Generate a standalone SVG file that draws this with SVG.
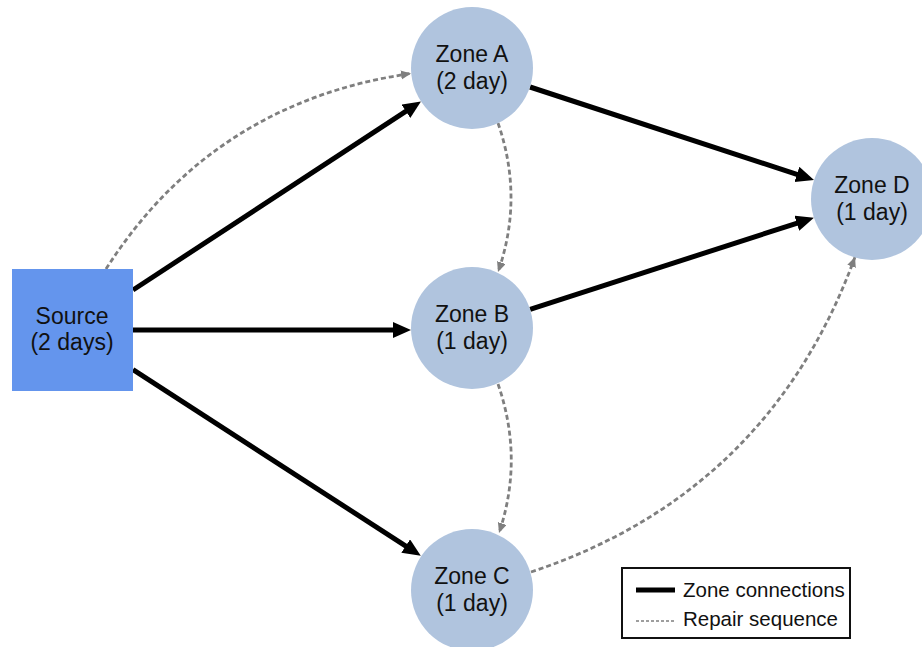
<svg xmlns="http://www.w3.org/2000/svg" width="922" height="647" viewBox="0 0 922 647">
  <style>
    .label { font-family: "Liberation Sans", Arial, sans-serif; font-size: 23px; fill: #111; text-anchor: middle; }
    .legend-text { font-family: "Liberation Sans", Arial, sans-serif; font-size: 20.5px; fill: #111; }
    .zone { fill: #b0c4de; }
    .source { fill: #6495ed; }
    .link { fill: none; stroke: #000; stroke-width: 5; marker-end: url(#head-solid); }
    .repair { fill: none; stroke: #7f7f7f; stroke-width: 2.8; stroke-dasharray: 5 3; marker-end: url(#head-dash); }
  </style>
  <defs>
    <marker id="head-solid" markerUnits="userSpaceOnUse" markerWidth="20" markerHeight="18" refX="8" refY="8" orient="auto" viewBox="0 0 20 18">
      <path d="M0,0 L18,8 L0,16 z" fill="#000"/>
    </marker>
    <marker id="head-dash" markerUnits="userSpaceOnUse" markerWidth="12" markerHeight="10" refX="10" refY="4.5" orient="auto" viewBox="0 0 12 10">
      <path d="M0,0 L10,4.5 L0,9 z" fill="#7f7f7f"/>
    </marker>
  </defs>

  <rect width="922" height="647" fill="#fff"/>

  <!-- connectors -->
  <g id="connectors">
    <!-- zone connections -->
    <path class="link" d="M133,290 L412.6,106.9"/>
    <path class="link" d="M133,330 L401,330"/>
    <path class="link" d="M133,369.6 L412.4,550.4"/>
    <path class="link" d="M530,87 L804.5,176.9"/>
    <path class="link" d="M530.1,309.3 L804.4,220.8"/>
    <!-- repair sequence -->
    <path class="repair" d="M106,269 Q213,102 411,73.5"/>
    <path class="repair" d="M498,123 Q524,198 498,272"/>
    <path class="repair" d="M498,384 Q524,459 499,533"/>
    <path class="repair" d="M531,572 Q769,493 855,257"/>
  </g>

  <!-- nodes -->
  <g id="source">
    <rect class="source" x="12" y="269" width="121" height="122"/>
    <text class="label" x="72" y="324">Source</text>
    <text class="label" x="72" y="350">(2 days)</text>
  </g>
  <g id="zone-a">
    <circle class="zone" cx="472" cy="68" r="61"/>
    <text class="label" x="472" y="62">Zone A</text>
    <text class="label" x="472" y="89">(2 day)</text>
  </g>
  <g id="zone-b">
    <circle class="zone" cx="472" cy="328" r="61"/>
    <text class="label" x="472" y="322">Zone B</text>
    <text class="label" x="472" y="349">(1 day)</text>
  </g>
  <g id="zone-c">
    <circle class="zone" cx="472" cy="590" r="61"/>
    <text class="label" x="472" y="584">Zone C</text>
    <text class="label" x="472" y="611">(1 day)</text>
  </g>
  <g id="zone-d">
    <circle class="zone" cx="872" cy="199" r="61"/>
    <text class="label" x="872" y="193">Zone D</text>
    <text class="label" x="872" y="220">(1 day)</text>
  </g>

  <!-- legend -->
  <g id="legend">
    <rect x="622" y="568" width="228" height="70" fill="#fff" stroke="#111" stroke-width="2"/>
    <line x1="636" y1="590" x2="675" y2="590" stroke="#000" stroke-width="5"/>
    <text class="legend-text" x="683" y="597">Zone connections</text>
    <line x1="636" y1="621" x2="675" y2="621" stroke="#7f7f7f" stroke-width="1.5" stroke-dasharray="3 2"/>
    <text class="legend-text" x="683" y="626">Repair sequence</text>
  </g>
</svg>
